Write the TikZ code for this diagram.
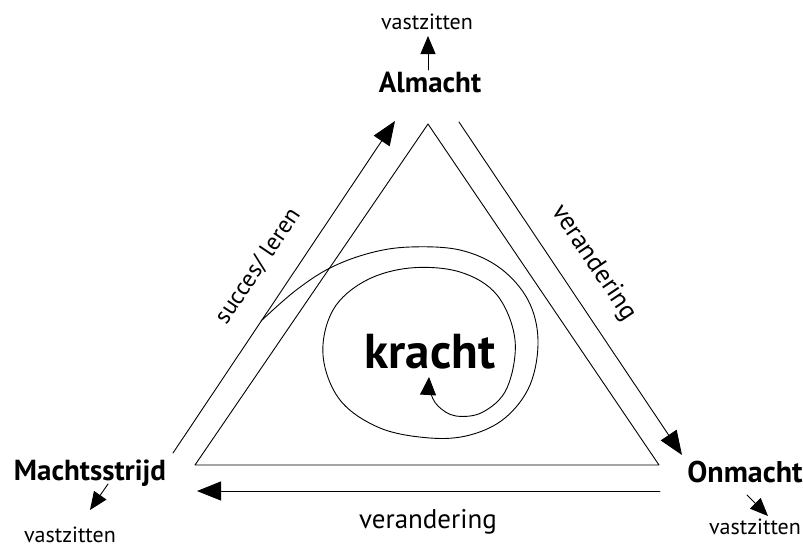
\documentclass[tikz,border=0pt]{standalone}
\usepackage{fontspec}
\setmainfont{PT Sans}
\usetikzlibrary{arrows.meta}
\tikzset{
  line/.style={line width=0.9pt, line cap=round, line join=round},
  bigtip/.style={-{Triangle[length=24pt,width=19pt]}},
  smalltip/.style={-{Triangle[length=18pt,width=15pt]}},
  corner/.style={font=\bfseries\fontsize{29}{32}\selectfont, inner sep=0pt, anchor=base},
  stuck/.style={font=\fontsize{22}{24}\selectfont, inner sep=0pt, anchor=base},
  side/.style={font=\fontsize{26}{28}\selectfont, inner sep=0pt},
}
\begin{document}
\begin{tikzpicture}[x=1pt,y=-1pt]
\useasboundingbox (0,0) rectangle (803,547);
% triangle
\coordinate (T) at (428,124);
\coordinate (L) at (195,465);
\coordinate (R) at (659,465);
\draw[line] (T) -- (L) -- (R) -- cycle;
% outer arrows
\coordinate (a1s) at (173,453);
\coordinate (a1e) at (395,121);
\coordinate (a2s) at (459,122);
\coordinate (a2e) at (682,455);
\coordinate (a3s) at (660,491);
\coordinate (a3e) at (197,491);
\draw[line,bigtip] (a1s) -- (a1e);
\draw[line,bigtip] (a2s) -- (a2e);
\draw[line,bigtip] (a3s) -- (a3e);
% labels
\node[corner] (alm) at (430,92) {Almacht};
\node[corner] (mach) at (90,480) {Machtsstrijd};
\node[corner, font=\bfseries\fontsize{30}{32}\selectfont] (onm) at (745,482) {Onmacht};
\node[stuck] (v1) at (427,29) {vastzitten};
\node[stuck] (v2) at (70,542) {vastzitten};
\node[stuck] (v3) at (755,534) {vastzitten};
\coordinate (s1) at (428,70);
\coordinate (s2) at (428,36);
\draw[line,smalltip] (s1) -- (s2);
\coordinate (m1) at (108,484);
\coordinate (m2) at (90,510);
\coordinate (o1) at (747,495);
\coordinate (o2) at (768,516);
\draw[line,smalltip] (m1) -- (m2);
\draw[line,smalltip] (o1) -- (o2);
\node[side, font=\fontsize{24}{26}\selectfont, rotate=56] (succ) at (258,266) {succes/ leren};
\node[side, rotate=-56] (ver1) at (594,263) {verandering};
\node[side, anchor=base, font=\fontsize{27}{28}\selectfont] (ver2) at (428,528) {verandering};
\node[font=\bfseries\fontsize{49}{52}\selectfont, inner sep=0pt, anchor=base] (kr) at (430,368) {kracht};
% spiral
\draw[line, -{Triangle[length=18pt,width=16pt]}] plot[smooth, tension=0.6] coordinates {
(261,321) (295,291) (330,268) (370,253) (410,247) (460,250) (500,268) (528,300) (538,340) (530,385) (505,418) (470,435) (430,438) (380,428) (340,400) (323,355) (333,310) (365,281) (410,268) (460,272) (497,295) (515,340) (507,388) (483,412) (456,416) (438,406) (430,391) (429,377)};
\end{tikzpicture}
\end{document}
